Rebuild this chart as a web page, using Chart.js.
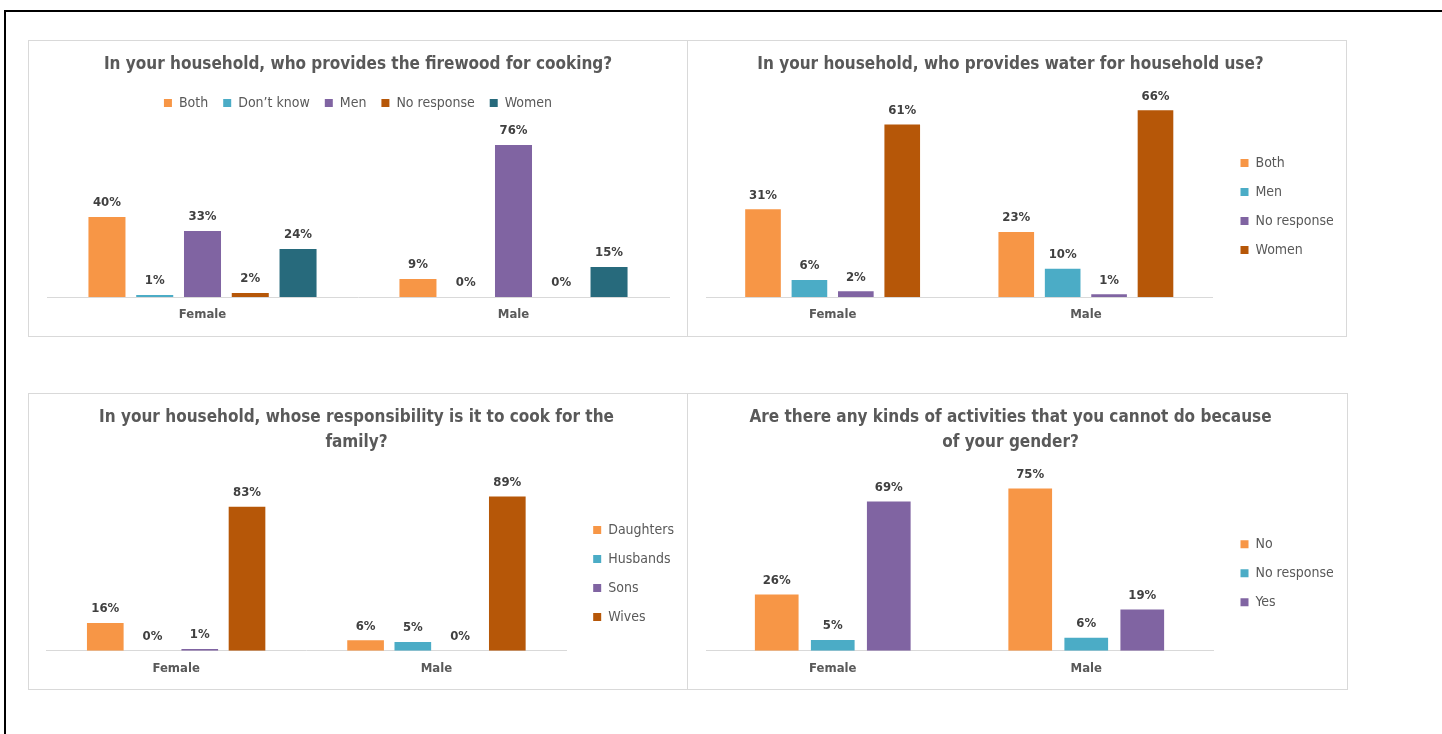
<!DOCTYPE html>
<html lang="en">
<head>
    <meta charset="UTF-8">
    <title>Household Gender Roles</title>
    <script src="https://cdn.jsdelivr.net/npm/chart.js"></script>
    <style>
        body {
            margin: 0;
            background: #fff;
            width: 1442px;
            height: 734px;
            overflow: hidden;
            position: relative;
        }
        .frame {
            position: absolute;
            left: 4px;
            top: 10px;
            right: 0;
            bottom: -20px;
            border-left: 2px solid #000;
            border-top: 2px solid #000;
        }
        .panel {
            position: absolute;
            box-sizing: border-box;
            border: 1px solid #d9d9d9;
            background: #fff;
        }
        .panel canvas {
            position: absolute;
            left: 0;
            top: 0;
        }
    </style>
</head>
<body>
    <div class="frame"></div>
    <div class="panel" style="left:28px; top:40px; width:660px; height:297px;"><canvas id="firewoodChart" width="658" height="295"></canvas></div>
    <div class="panel" style="left:687px; top:40px; width:660px; height:297px;"><canvas id="waterChart" width="658" height="295"></canvas></div>
    <div class="panel" style="left:28px; top:393px; width:660px; height:297px;"><canvas id="cookChart" width="658" height="295"></canvas></div>
    <div class="panel" style="left:687px; top:393px; width:661px; height:297px;"><canvas id="genderChart" width="659" height="295"></canvas></div>

    <script>
        const groups = ['Female', 'Male'];

        const firewoodSeries = ['Both', 'Don\u2019t know', 'Men', 'No response', 'Women'];
        const firewoodValues = [[40, 9], [1, 0], [33, 76], [2, 0], [24, 15]];

        const waterSeries = ['Both', 'Men', 'No response', 'Women'];
        const waterValues = [[31, 23], [6, 10], [2, 1], [61, 66]];

        const cookSeries = ['Daughters', 'Husbands', 'Sons', 'Wives'];
        const cookValues = [[16, 6], [0, 5], [1, 0], [83, 89]];

        const genderSeries = ['No', 'No response', 'Yes'];
        const genderValues = [[26, 75], [5, 6], [69, 19]];

        const FONT = "'DejaVu Sans Condensed', 'Liberation Sans Narrow', 'Liberation Sans', sans-serif";
        const ORANGE = '#F79646', AQUA = '#4BACC6', PURPLE = '#8064A2', RUST = '#B65708', TEAL = '#276A7C';

        // percentage text above every bar, zero bars included
        const barValueLabels = {
            id: 'barValueLabels',
            afterDatasetsDraw(chart) {
                const ctx = chart.ctx;
                ctx.save();
                ctx.font = 'bold 13px ' + FONT;
                ctx.fillStyle = '#404040';
                ctx.textAlign = 'center';
                ctx.textBaseline = 'middle';
                chart.data.datasets.forEach((ds, i) => {
                    chart.getDatasetMeta(i).data.forEach((bar, j) => {
                        ctx.fillText(ds.data[j] + '%', bar.x, bar.y - 14);
                    });
                });
                ctx.restore();
            }
        };

        // invisible axis used only to reserve a strip of space
        function spacer(axis, position, size) {
            return {
                type: 'linear',
                axis: axis,
                position: position,
                grid: { display: false, drawTicks: false },
                border: { display: false },
                ticks: { display: false },
                afterFit(scale) {
                    if (axis === 'x') scale.height = size; else scale.width = size;
                }
            };
        }

        function makeChart(id, cfg) {
            const datasets = cfg.series.map((name, i) => ({
                label: name,
                data: cfg.values[i],
                backgroundColor: cfg.colors[i],
                borderWidth: 0,
                categoryPercentage: cfg.cat,
                barPercentage: cfg.bar
            }));

            const scales = {
                x: {
                    grid: { display: false, drawTicks: false },
                    border: { color: '#d9d9d9', width: 1 },
                    ticks: { color: '#595959', padding: 10, font: { family: FONT, size: 13, weight: 'bold' } }
                },
                y: {
                    min: 0,
                    max: cfg.max,
                    grid: { display: false, drawTicks: false },
                    border: { display: false },
                    ticks: { display: false },
                    afterFit(scale) { scale.width = cfg.left; }
                },
                yGap: spacer('y', 'right', cfg.gap)
            };
            if (cfg.topGap) scales.xGap = spacer('x', 'top', cfg.topGap);

            const legend = {
                position: cfg.legendPos,
                labels: {
                    color: '#595959',
                    boxWidth: 8,
                    boxHeight: 8,
                    padding: cfg.legendPad,
                    font: { family: FONT, size: 14 }
                }
            };
            if (cfg.legendPos === 'right') {
                legend.fullSize = false;
                legend.title = { display: true, text: '', font: { size: 1, lineHeight: 1 }, padding: { top: cfg.legendTop, bottom: 0 } };
            }

            return new Chart(document.getElementById(id), {
                type: 'bar',
                data: { labels: groups, datasets: datasets },
                options: {
                    responsive: false,
                    animation: false,
                    events: [],
                    layout: { padding: { left: 0, right: cfg.right, top: 0, bottom: cfg.bottom } },
                    scales: scales,
                    plugins: {
                        title: {
                            display: true,
                            text: cfg.title,
                            color: '#595959',
                            font: { family: FONT, size: 17, weight: 'bold', lineHeight: 1.47 },
                            padding: cfg.titlePad
                        },
                        legend: legend,
                        tooltip: { enabled: false }
                    }
                },
                plugins: [barValueLabels]
            });
        }

        makeChart('firewoodChart', {
            title: 'In your household, who provides the firewood for cooking?',
            series: firewoodSeries,
            values: firewoodValues,
            colors: [ORANGE, AQUA, PURPLE, RUST, TEAL],
            max: 80,
            cat: 0.768,
            bar: 0.775,
            legendPos: 'top',
            legendPad: 15,
            topGap: 17,
            left: 18,
            gap: 18,
            right: 0,
            bottom: 3.4,
            titlePad: { top: 11.5, bottom: 3.5 }
        });

        makeChart('waterChart', {
            title: 'In your household, who provides water for household use?',
            series: waterSeries,
            values: waterValues,
            colors: [ORANGE, AQUA, PURPLE, RUST],
            max: 70,
            cat: 0.733,
            bar: 0.768,
            legendPos: 'right',
            legendPad: 15,
            legendTop: 16,
            left: 18,
            gap: 13,
            right: 13,
            bottom: 3.4,
            titlePad: { top: 11.5, bottom: 21.5 }
        });

        makeChart('cookChart', {
            title: ['In your household, whose responsibility is it to cook for the', 'family?'],
            series: cookSeries,
            values: cookValues,
            colors: [ORANGE, AQUA, PURPLE, RUST],
            max: 100,
            cat: 0.726,
            bar: 0.776,
            legendPos: 'right',
            legendPad: 15,
            legendTop: 18,
            left: 17,
            gap: 11.6,
            right: 3,
            bottom: 2.7,
            titlePad: { top: 11.5, bottom: 21.9 }
        });

        makeChart('genderChart', {
            title: ['Are there any kinds of activities that you cannot do because', 'of your gender?'],
            series: genderSeries,
            values: genderValues,
            colors: [ORANGE, AQUA, PURPLE],
            max: 80,
            cat: 0.663,
            bar: 0.78,
            legendPos: 'right',
            legendPad: 15,
            legendTop: 17,
            left: 18,
            gap: 12.5,
            right: 14,
            bottom: 2.7,
            titlePad: { top: 11.5, bottom: 22.2 }
        });
    </script>
</body>
</html>
